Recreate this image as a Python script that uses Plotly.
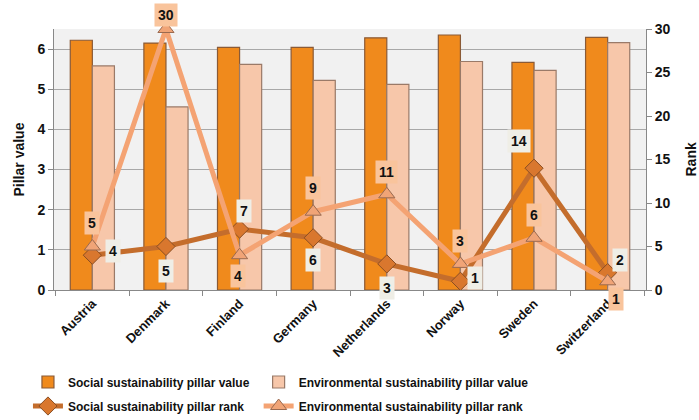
import plotly.graph_objects as go

countries = ["Austria", "Denmark", "Finland", "Germany", "Netherlands", "Norway", "Sweden", "Switzerland"]
social_value = [6.22, 6.15, 6.04, 6.04, 6.28, 6.35, 5.67, 6.29]
env_value = [5.58, 4.56, 5.62, 5.22, 5.12, 5.69, 5.47, 6.16]
social_rank = [4, 5, 7, 6, 3, 1, 14, 2]
env_rank = [5, 30, 4, 9, 11, 3, 6, 1]

# label offsets (pixels) for rank annotations
social_off = [(21, 4), (0, -24), (4, 18), (0, -22), (0, -24), (15, 3), (-15, 27), (12, 13)]
env_off = [(0, 24), (0, 14), (-2, -21), (0, 24), (0, 22), (0, 23), (0, 23), (8, -18)]

FONT = "Liberation Sans, Arial, sans-serif"
L, R, T, B, W, H = 54, 53, 29, 130, 699, 420
PW = W - L - R

fig = go.Figure()
fig.add_trace(go.Bar(
    x=countries, y=social_value, name="Social sustainability pillar value",
    legend="legend", legendgroup="a",
    marker=dict(color="#f08a1c", line=dict(color="#8a5a36", width=1.2)),
))
fig.add_trace(go.Bar(
    x=countries, y=env_value, name="Environmental sustainability pillar value",
    legend="legend2", legendgroup="b",
    marker=dict(color="#f7c7aa", line=dict(color="#9a7a68", width=1.2)),
))
fig.add_trace(go.Scatter(
    x=countries, y=social_rank, yaxis="y2", name="Social sustainability pillar rank",
    legend="legend", legendgroup="c",
    mode="lines+markers", cliponaxis=False,
    line=dict(color="#c46d2c", width=5),
    marker=dict(symbol="diamond", size=14, color="#d9772e", line=dict(color="#8a4e22", width=1)),
))
fig.add_trace(go.Scatter(
    x=countries, y=env_rank, yaxis="y2", name="Environmental sustainability pillar rank",
    legend="legend2", legendgroup="d",
    mode="lines+markers", cliponaxis=False,
    line=dict(color="#f4a373", width=5),
    marker=dict(symbol="triangle-up", size=14, color="#f0a477", line=dict(color="#9a6a50", width=1)),
))

annotations = []
for c, r, (dx, dy) in zip(countries, social_rank, social_off):
    annotations.append(dict(x=c, y=r, xref="x", yref="y2", text=f"<b>{r}</b>", showarrow=False,
                            xshift=dx, yshift=dy, bgcolor="#efeee6", borderpad=3,
                            font=dict(family=FONT, size=14, color="#111")))
for c, r, (dx, dy) in zip(countries, env_rank, env_off):
    annotations.append(dict(x=c, y=r, xref="x", yref="y2", text=f"<b>{r}</b>", showarrow=False,
                            xshift=dx, yshift=dy, bgcolor="#f9c49c", borderpad=3,
                            font=dict(family=FONT, size=14, color="#111")))
# axis titles
annotations.append(dict(x=(18 - L) / PW, y=0.5, xref="paper", yref="paper", text="<b>Pillar value</b>",
                        textangle=-90, showarrow=False, xanchor="center", yanchor="middle",
                        font=dict(family=FONT, size=14, color="#111")))
annotations.append(dict(x=(690 - L) / PW, y=0.5, xref="paper", yref="paper", text="<b>Rank</b>",
                        textangle=-90, showarrow=False, xanchor="center", yanchor="middle",
                        font=dict(family=FONT, size=14, color="#111")))

legend_common = dict(orientation="v", xref="container", yref="container",
                     xanchor="left", y=0.125, yanchor="top",
                     traceorder="grouped", tracegroupgap=5, bgcolor="rgba(0,0,0,0)",
                     font=dict(family=FONT, size=12, color="#111", weight="bold"),
                     itemwidth=30)

fig.update_layout(
    width=W, height=H,
    margin=dict(l=L, r=R, t=T, b=B, autoexpand=False),
    paper_bgcolor="white", plot_bgcolor="#f1f1f1",
    font=dict(family=FONT, size=13, color="#111", weight="bold"),
    barmode="group", bargap=0.4, bargroupgap=0,
    showlegend=True,
    legend=dict(x=0.04, **legend_common),
    legend2=dict(x=0.37, **legend_common),
    xaxis=dict(tickangle=-45, showline=True, linecolor="#888", ticks="outside", tickson="boundaries",
               ticklen=5, tickcolor="#888", tickfont=dict(family=FONT, size=13, color="#111", weight="bold"),
               showgrid=False),
    yaxis=dict(range=[0, 6.5], dtick=1, tick0=0, showline=True, linecolor="#888", ticks="outside",
               ticklen=5, tickcolor="#888", gridcolor="#a8a8a8", gridwidth=1,
               tickfont=dict(family=FONT, size=14, color="#111", weight="bold"), zeroline=False),
    yaxis2=dict(range=[0, 30], dtick=5, tick0=0, overlaying="y", side="right", showline=True,
                linecolor="#888", ticks="outside", ticklen=5, tickcolor="#888", showgrid=False,
                tickfont=dict(family=FONT, size=14, color="#111", weight="bold"), zeroline=False),
    annotations=annotations,
)

fig.write_html("out.html", config={"displayModeBar": False},
               post_script="document.body.style.margin='0';")
